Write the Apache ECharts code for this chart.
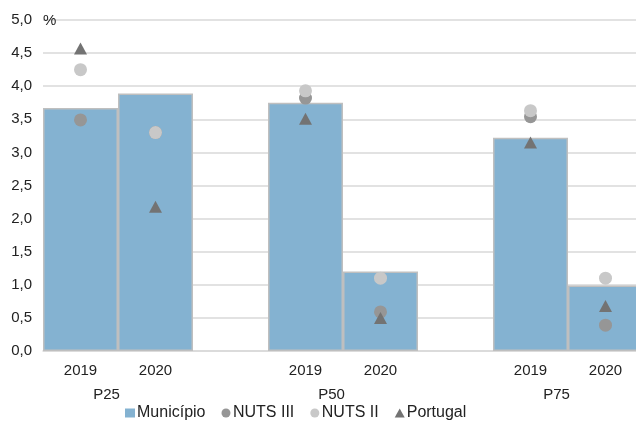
<!DOCTYPE html>
<html>
<head>
<meta charset="utf-8">
<title></title>
<style>
  html, body { margin: 0; height: 100%; background: #fff; }
  #main { width: 636px; height: 428px; }
</style>
</head>
<body>
<div id="main"></div>
<script src="https://cdn.jsdelivr.net/npm/echarts@6/dist/echarts.min.js"></script>
<script>
  // slots: 2019, 2020, gap, 2019, 2020, gap, 2019, 2020
  var years = ['2019', '2020', '', '2019', '2020', '', '2019', '2020'];
  var groups = ['P25', '', '', 'P50', '', '', 'P75', ''];
  var municipio = [3.67, 3.89, null, 3.75, 1.20, null, 3.22, 0.99];
  var nuts3 = [3.49, 3.30, null, 3.82, 0.59, null, 3.54, 0.39];
  var nuts2 = [4.25, 3.30, null, 3.93, 1.10, null, 3.63, 1.10];
  var portugal = [4.57, 2.18, null, 3.51, 0.50, null, 3.15, 0.68];

  var font = 'Liberation Sans, Arial, sans-serif';
  var chart = echarts.init(document.getElementById('main'));

  var fmt = function (v) { return v.toFixed(1).replace('.', ','); };

  chart.setOption({
    animation: false,
    textStyle: { fontFamily: font },
    // plot runs a bit past the right edge, like the original
    grid: { left: 43, top: 20, width: 600, height: 331, outerBoundsMode: 'none' },
    legend: {
      left: 120,
      bottom: 2,
      itemGap: 16,
      itemWidth: 10,
      itemHeight: 9,
      textStyle: { fontFamily: font, fontSize: 16, color: '#222', padding: [0, 0, 0, -3] },
      data: [
        { name: 'Município', icon: 'rect', itemStyle: { borderWidth: 0 } },
        { name: 'NUTS III', icon: 'circle', itemStyle: { color: '#969696' } },
        { name: 'NUTS II', icon: 'circle', itemStyle: { color: '#C8C8C8' } },
        { name: 'Portugal', icon: 'triangle', itemStyle: { color: '#737373' } }
      ]
    },
    xAxis: [{
      type: 'category',
      data: years,
      axisLine: { lineStyle: { color: '#D9D9D9', width: 1.5 } },
      axisTick: { show: false },
      axisLabel: { color: '#222', fontSize: 15, margin: 12, interval: 0 }
    }, {
      type: 'category',
      position: 'bottom',
      data: groups,
      offset: 24,
      axisLine: { show: false },
      axisTick: { show: false },
      axisLabel: { color: '#222', fontSize: 15, margin: 12, interval: 0, padding: [0, 0, 0, 52] }
    }],
    yAxis: {
      type: 'value',
      min: 0,
      max: 5,
      interval: 0.5,
      name: '%',
      nameLocation: 'end',
      nameGap: -8,
      nameTextStyle: { color: '#222', fontSize: 15, align: 'left' },
      axisLine: { show: false },
      axisTick: { show: false },
      splitLine: { lineStyle: { color: '#D9D9D9', width: 1.5 } },
      axisLabel: { color: '#222', fontSize: 15, margin: 11, formatter: fmt }
    },
    series: [{
      name: 'Município',
      type: 'bar',
      data: municipio,
      barCategoryGap: '0%',
      itemStyle: { color: '#84B2D1', borderColor: '#BFBFBF', borderWidth: 1.5 }
    }, {
      name: 'NUTS III',
      type: 'scatter',
      data: nuts3,
      symbol: 'circle',
      symbolSize: 13,
      itemStyle: { color: '#969696', opacity: 1 }
    }, {
      name: 'NUTS II',
      type: 'scatter',
      data: nuts2,
      symbol: 'circle',
      symbolSize: 13,
      itemStyle: { color: '#C8C8C8', opacity: 1 }
    }, {
      name: 'Portugal',
      type: 'scatter',
      data: portugal,
      symbol: 'triangle',
      symbolSize: [13, 12],
      itemStyle: { color: '#737373', opacity: 1 }
    }]
  });
</script>
</body>
</html>
